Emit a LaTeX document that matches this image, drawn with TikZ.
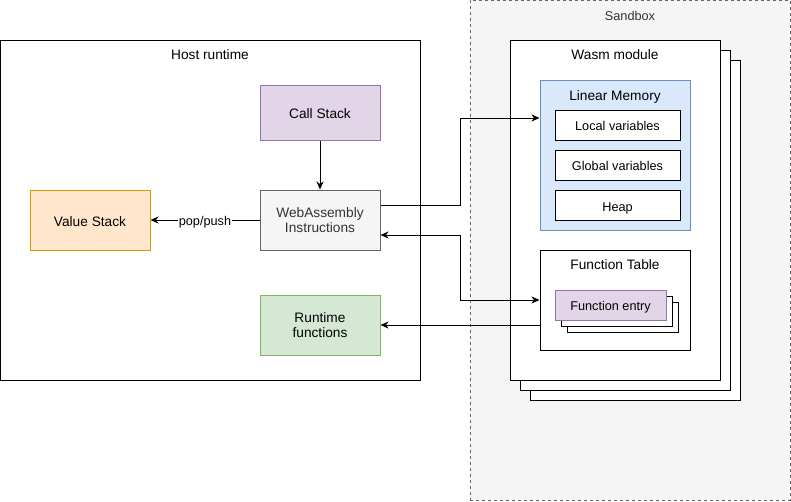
\documentclass[tikz,border=0pt]{standalone}
\usepackage{fontspec}
\setmainfont{Liberation Sans}
\usepackage{xcolor}
\usepackage{tikz}
\usetikzlibrary{arrows.meta}
\definecolor{sandfill}{HTML}{F5F5F5}
\definecolor{sandline}{HTML}{666666}
\definecolor{greytext}{HTML}{333333}
\definecolor{purplefill}{HTML}{E1D5E7}
\definecolor{purpleline}{HTML}{9673A6}
\definecolor{orangefill}{HTML}{FFE6CC}
\definecolor{orangeline}{HTML}{D79B00}
\definecolor{greenfill}{HTML}{D5E8D4}
\definecolor{greenline}{HTML}{82B366}
\definecolor{bluefill}{HTML}{DAE8FC}
\definecolor{blueline}{HTML}{6C8EBF}
\tikzset{every node/.style={font=\fontsize{13.7}{16}\selectfont,text height=12.4pt,text depth=0pt},
    small/.style={font=\fontsize{12.7}{15}\selectfont,text height=11.8pt,text depth=0pt},
    box/.style={draw,line width=1pt,minimum width=120pt,minimum height=60pt,inner sep=0pt,align=center},
    twolines/.style={font=\fontsize{13.7}{15}\selectfont,text height=,text depth=0pt},
    frame/.style={draw,line width=1pt,fill=white,inner sep=0pt},
    title/.style={inner sep=0pt,yshift=1.3pt},
    slot/.style={frame,small,minimum width=125pt,minimum height=30pt},
    link/.style={draw,line width=1pt,-{Stealth[length=8pt,width=7pt,inset=2.5pt]}},
    twoway/.style={draw,line width=1pt,{Stealth[length=8pt,width=7pt,inset=2.5pt]}-{Stealth[length=8pt,width=7pt,inset=2.5pt]}}}

\begin{document}
\begin{tikzpicture}[x=1pt,y=-1pt]
            \useasboundingbox (0,0) rectangle (791,501);
            \node[draw=sandline,fill=sandfill,line width=1pt,dash pattern=on 3pt off 3pt,
                minimum width=320pt,minimum height=500pt,inner sep=0pt] (sandbox) at (630,250) {};
            \node[title,small,text=greytext] (sandboxlabel) at (630,16) {Sandbox};

            \node[frame,minimum width=420pt,minimum height=340pt] (host) at (210.5,210) {};
            \node[title] (hostlabel) at (210,55) {Host runtime};
            \node[box,fill=purplefill,draw=purpleline,minimum height=55pt] (callstack) at (320,112.5) {Call Stack};
            \node[box,twolines,fill=sandfill,draw=sandline,text=greytext] (instr) at (320,220) {WebAssembly\\Instructions};
            \node[box,fill=orangefill,draw=orangeline] (valuestack) at (90,220) {Value Stack};
            \node[box,twolines,fill=greenfill,draw=greenline] (runtime) at (320,325) {Runtime\\functions};

            \node[frame,minimum width=210pt,minimum height=340pt] (module3) at (635,230) {};
            \node[frame,minimum width=210pt,minimum height=340pt] (module2) at (625,220) {};
            \node[frame,minimum width=210pt,minimum height=340pt] (module) at (615,210) {};
            \node[title] (modulelabel) at (615,55) {Wasm module};

            \node[frame,fill=bluefill,draw=blueline,minimum width=150pt,minimum height=150pt] (linmem) at (615,155) {};
            \node[title] (linmemlabel) at (615,96) {Linear Memory};
            \node[slot] (localvars) at (617.5,125) {Local variables};
            \node[slot] (globalvars) at (617.5,165) {Global variables};
            \node[slot] (heap) at (617.5,205.5) {Heap};

            \node[frame,minimum width=150pt,minimum height=100pt] (functable) at (615,300) {};
            \node[title] (functablelabel) at (615,265) {Function Table};
            \node[frame,minimum width=111pt,minimum height=30pt] (entry3) at (622.5,317) {};
            \node[frame,minimum width=111pt,minimum height=30pt] (entry2) at (616.5,311) {};
            \node[frame,small,fill=purplefill,draw=purpleline,minimum width=111pt,minimum height=30pt] (entry) at (610.5,305) {Function entry};

            \coordinate (bendA) at (460,118);
            \coordinate (bendB) at (460,300);
            \draw[link] (callstack) -- (instr);
            \draw[link] (instr) -- node[small,fill=white,inner sep=1pt] (poppush) {pop/push} (valuestack);
            \draw[link] ([yshift=15pt]instr.east) -| (bendA) -- (linmem.west |- bendA);
            \draw[twoway] ([yshift=-15pt]instr.east) -| (bendB) -- (functable.west);
            \draw[link] ([yshift=-25pt]functable.west) -- (runtime.east);
        \end{tikzpicture}
\end{document}
